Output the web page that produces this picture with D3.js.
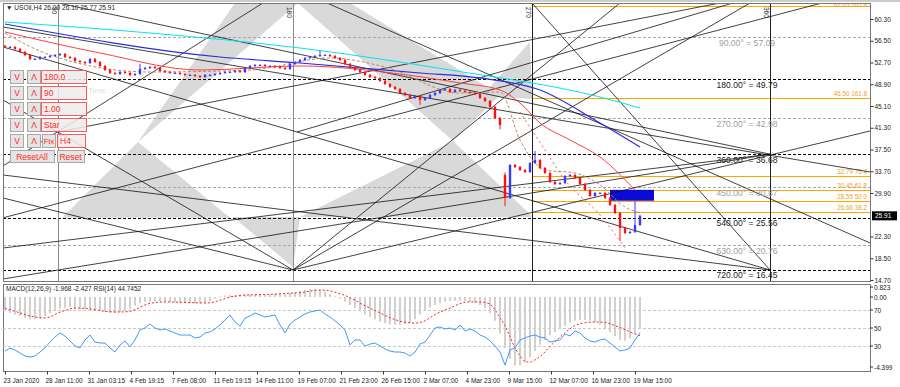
<!DOCTYPE html>
<html><head><meta charset="utf-8">
<script src="https://cdn.jsdelivr.net/npm/d3@7/dist/d3.min.js"></script>
<style>
body{margin:0;background:#fff;}
svg text{font-family:"Liberation Sans","DejaVu Sans",sans-serif;}
</style></head>
<body><svg id="c" width="900" height="387"></svg>
<script>
// ---------------- DATA ----------------
const symbolTitle = "USOil,H4  26.00 26.10 25.77 25.91";
const indTitle = "MACD(12,26,9) -1.968 -2.427  RSI(14) 44.7452";
// closes of H4 candles (sampled), oldest first
const closes = [
55.41,55.41,55.06,54.53,54.01,53.31,53.31,53.66,53.66,53.84,
54.01,54.19,53.66,53.49,52.96,52.79,52.61,53.31,52.79,52.09,
51.39,50.87,50.69,51.04,50.87,50.52,50.69,51.57,51.74,51.91,
51.74,51.22,51.04,50.87,50.87,50.69,50.52,50.52,50.34,50.17,
50.52,50.52,50.69,50.87,51.04,51.04,51.22,51.04,51.74,52.09,
52.26,52.26,52.09,52.09,51.91,51.74,51.57,52.44,52.79,53.14,
53.49,53.66,53.84,54.01,54.01,53.84,53.49,53.14,52.44,51.91,
51.39,51.04,50.52,50.17,49.99,49.47,48.94,48.42,48.07,47.37,
47.02,46.50,46.85,46.15,46.50,47.02,47.37,47.90,48.07,47.55,
47.90,47.72,47.55,47.37,47.20,46.50,45.97,44.93,43.00,41.78,
29.03,34.79,34.44,33.92,33.57,35.14,35.67,34.27,33.40,31.82,
31.47,31.65,32.87,33.05,32.52,31.47,30.43,29.38,29.90,29.90,
29.03,27.81,26.41,23.79,22.91,23.09,24.31,25.91];
const firstOpen = 55.6;
const gapOpens = {100: 33.05};                 // weekend gap (9 Mar)
const wickHigh = {100: 33.3, 106: 37.07, 126: 28.33, 27: 52.3, 63: 54.6};
const wickLow  = {100: 27.81, 123: 21.69, 83: 45.5, 99: 41.2};

// moving averages: [bar, price]
const maCyan  = [[0,59.78],[29,57.85],[59,55.23],[89,51.39],[119,46.67],[127,44.75]];
const maBlue  = [[0,59.43],[43,53.66],[59,52.61],[83,50.87],[95,50.0],[107,47.90],[119,42.13],[127,37.94]];
const maRed   = [[0,58.03],[19,54.36],[39,51.39],[59,52.09],[79,50.69],[91,49.12],[99,47.90],[103,45.63],[107,42.13],[113,39.16],[119,36.19],[126,30.43]];
const maBrown = [[0,57.85],[9,54.01],[29,51.04],[49,51.39],[65,53.49],[76,51.91],[91,47.37],[99,47.55],[103,39.16],[108,33.92],[114,33.40],[119,31.30],[124,27.46],[127,26.41]];
const envRed  = [[103,44.05],[108,37.41],[112,32.17],[119,26.06],[124,20.30]];

// price axis
const priceTicks = [60.30,56.50,52.70,48.90,45.10,41.30,37.50,33.70,29.90,22.30,18.50,14.70];
const lastPrice = 25.91;
// time axis
const timeTickBars = [0,8.4,16.8,25.2,33.6,42,50.4,58.8,67.2,75.6,84,92.4,100.8,109.2,117.6,126];
const timeLabels = ["23 Jan 2020","28 Jan 11:00","31 Jan 03:15","4 Feb 19:15","7 Feb 08:00","11 Feb 19:15","14 Feb 11:00","19 Feb 07:00","21 Feb 23:00","26 Feb 15:00","2 Mar 07:00","4 Mar 23:00","9 Mar 15:00","12 Mar 07:00","16 Mar 23:00","19 Mar 15:00"];

// Gann square levels
const gannDeg = [90,180,270,360,450,540,630,720];
const gannPrice = [57.09,49.79,42.98,36.68,30.87,25.56,20.76,16.45];
const gannTimeBars = [10.6,57.6,105.4,153];
const gannTimeLabels = ["90","180","270","360"];
// Gann fan lines [bar1, price1, bar2, price2]
const gannLines = [
 [57.6,16.45,149,63.10],[57.6,16.45,123,63.10],[57.6,16.45,173,40.73],
 [-0.4,46.15,57.6,16.45],[-0.4,29.03,57.6,16.45],[-0.4,55.41,58.4,40.56],
 [-0.4,33.05,153,16.45],[-0.4,20.29,153,36.68],[-0.4,58.90,173,33.57],
 [-0.4,14.88,153,36.68],[10.6,40.56,143,63.10],[58.4,40.56,145.6,63.10],
 [-0.4,34.62,51.6,63.10],[10.6,63.10,153,36.68],[105.4,63.10,153,16.45],
 [64.4,63.10,173,21.17],[58.4,40.56,153,16.45],[-0.4,25.56,163.4,63.10]
];
// shaded gann cells (polygons in [bar, price])
const grayCells = [
 [[46,63.10],[58.6,63.10],[26.6,38.81]],
 [[58.6,63.10],[69,63.10],[99,47.02],[89.6,38.99]],
 [[105,56.32],[105.4,46.32],[95.4,46.85]],
 [[26.6,38.81],[11.4,25.56],[45,25.56]],
 [[89.6,38.99],[59,25.71],[105.6,25.71]],
 [[45.6,25.71],[59,25.71],[57.6,16.97]]
];
// fibonacci
const fibPct = ["261.8","161.8","76.4","61.8","50.0","38.2"];
const fibPrice = [62.65,46.50,32.79,30.45,28.55,26.66];
const fibStartBar = 105.4;
const zoneBars = [121,129.8], zonePrices=[30.45,28.55];

// MACD / RSI per bar
const macd = [
-0.9,-1.0,-1.1,-1.2,-1.3,-1.4,-1.4,-1.35,-1.2,-1.0,
-0.8,-0.7,-0.7,-0.65,-0.7,-0.75,-0.75,-0.8,-0.85,-0.9,
-0.95,-1.0,-1.0,-0.95,-0.9,-0.75,-0.55,-0.4,-0.3,-0.28,
-0.28,-0.3,-0.32,-0.34,-0.35,-0.36,-0.38,-0.4,-0.42,-0.4,
-0.35,-0.25,-0.1,0.05,0.1,0.12,0.1,0.12,0.14,0.15,
0.17,0.16,0.15,0.18,0.2,0.22,0.24,0.27,0.32,0.38,
0.45,0.5,0.5,0.45,0.35,0.2,0.05,-0.1,-0.3,-0.5,
-0.7,-0.9,-1.1,-1.25,-1.4,-1.55,-1.65,-1.72,-1.75,-1.75,
-1.7,-1.6,-1.4,-1.1,-0.85,-0.65,-0.5,-0.4,-0.3,-0.25,
-0.22,-0.22,-0.25,-0.3,-0.38,-0.5,-0.7,-1.0,-1.5,-2.3,
-3.2,-3.9,-4.3,-4.3,-4.1,-3.8,-3.4,-3.0,-2.7,-2.4,
-2.2,-2.0,-1.8,-1.6,-1.5,-1.45,-1.45,-1.5,-1.6,-1.75,
-1.95,-2.2,-2.45,-2.7,-2.75,-2.6,-2.3,-1.97];
const signal = [
-0.7,-0.8,-0.9,-1.0,-1.1,-1.2,-1.25,-1.3,-1.32,-1.25,
-1.1,-0.95,-0.85,-0.75,-0.7,-0.7,-0.72,-0.76,-0.8,-0.85,
-0.9,-0.92,-0.94,-0.94,-0.93,-0.9,-0.8,-0.65,-0.5,-0.4,
-0.35,-0.32,-0.31,-0.31,-0.32,-0.33,-0.34,-0.35,-0.36,-0.37,
-0.38,-0.36,-0.3,-0.2,-0.1,0.0,0.05,0.1,0.12,0.13,
0.14,0.15,0.16,0.17,0.18,0.2,0.22,0.24,0.25,0.28,
0.32,0.37,0.42,0.44,0.43,0.38,0.3,0.2,0.1,-0.05,
-0.2,-0.38,-0.55,-0.7,-0.85,-1.0,-1.15,-1.3,-1.42,-1.52,
-1.58,-1.62,-1.64,-1.6,-1.5,-1.3,-1.1,-0.95,-0.82,-0.7,
-0.55,-0.42,-0.33,-0.31,-0.31,-0.32,-0.35,-0.45,-0.8,-1.3,
-1.8,-2.5,-3.2,-3.7,-4.05,-4.09,-3.95,-3.75,-3.45,-3.1,
-2.8,-2.52,-2.25,-2.0,-1.8,-1.68,-1.62,-1.58,-1.57,-1.57,
-1.6,-1.68,-1.8,-1.92,-2.05,-2.2,-2.33,-2.43];
const rsi = [
24.4,27.8,25.6,22.2,18.9,17.8,18.9,23.3,27.8,34.4,
40.0,44.4,41.1,35.6,30.0,27.8,36.7,42.2,34.4,33.3,
33.3,27.8,23.3,31.1,35.6,28.9,36.7,47.8,50.0,54.4,
50.0,47.8,48.9,46.7,44.4,42.2,42.2,42.2,38.9,40.0,
44.4,45.6,48.9,53.3,58.9,64.4,56.7,52.2,61.1,63.3,
66.7,64.4,62.2,63.3,64.4,53.3,44.4,54.4,58.9,62.2,
65.6,67.8,68.9,70.0,65.6,62.2,57.8,53.3,47.8,31.1,
36.7,36.7,30.0,32.2,33.3,30.0,26.7,24.4,23.3,23.3,
22.2,18.9,23.3,32.2,34.4,42.2,50.0,51.1,48.9,50.0,
47.8,53.3,46.7,48.9,46.7,42.2,40.0,35.6,30.0,23.3,
8.9,25.6,27.8,36.7,38.9,41.1,42.2,40.0,38.9,34.4,
35.6,36.7,43.3,41.1,46.7,44.4,38.9,35.6,34.4,36.7,
37.8,33.3,28.9,24.4,25.6,27.8,36.7,44.75];
const rsiLevels = [70,50,30];
const macdTicks = [0.823,0.00,-4.399];

// control panel
const panelRows = [
 {box:"180.0"},{box:"90"},{box:"1.00"},{box:"Star"},{fix:true, box:"H4"}
];

// ---------------- DRAW ----------------
const svg = d3.select("#c");
const P = {l:3, r:870, t:3, b:281};
const I = {t:284, b:371};
const N = closes.length;

const x = d3.scaleLinear().domain([0, N-1]).range([5, 640]);
const y = d3.scaleLinear().domain([14.70, 60.30]).range([280, 19]);
const yM = d3.scaleLinear().domain([-4.399, 0]).range([367, 297]);
const yR = d3.scaleLinear().domain([30, 70]).range([346, 310]);

svg.append("rect").attr("width",900).attr("height",387).attr("fill","#fff");
const defs = svg.append("defs");
defs.append("clipPath").attr("id","cp").append("rect")
  .attr("x",P.l).attr("y",P.t).attr("width",P.r-P.l).attr("height",P.b-P.t);
defs.append("clipPath").attr("id","ci").append("rect")
  .attr("x",P.l).attr("y",I.t).attr("width",P.r-P.l).attr("height",I.b-I.t);

const g = svg.append("g").attr("clip-path","url(#cp)");

// gray cells
g.selectAll("polygon.cell").data(grayCells).join("polygon")
  .attr("points", d => d.map(p => [x(p[0]), y(p[1])].join(",")).join(" "))
  .attr("fill","#d9d9d9");

// gann horizontal levels
gannPrice.forEach((p,i)=>{
  const major = gannDeg[i]%180===0;
  g.append("line").attr("x1",P.l).attr("x2",P.r).attr("y1",Math.round(y(p))+0.5).attr("y2",Math.round(y(p))+0.5)
   .attr("stroke", major?"#000":"#a8a8a8").attr("stroke-dasharray","3,2").attr("stroke-width",1);
});
// fib lines
fibPrice.forEach((p,i)=>{
  g.append("line").attr("x1",x(fibStartBar)).attr("x2",P.r).attr("y1",Math.round(y(p))+0.5).attr("y2",Math.round(y(p))+0.5)
   .attr("stroke","#ffa500").attr("stroke-width",1);
  g.append("text").attr("x",P.r-3).attr("y",Math.max(y(p)-2,7)).attr("text-anchor","end")
   .attr("font-size",6.3).attr("fill","#f0a030").text(p.toFixed(2)+"  "+fibPct[i]);
});
// zone rectangle
g.append("rect").attr("x",x(zoneBars[0])).attr("y",y(zonePrices[0]))
  .attr("width",x(zoneBars[1])-x(zoneBars[0])).attr("height",y(zonePrices[1])-y(zonePrices[0]))
  .attr("fill","#0a0ad8");

// vertical time lines
gannTimeBars.forEach((b,i)=>{
  const xx = Math.round(x(b))+0.5;
  g.append("line").attr("x1",xx).attr("x2",xx).attr("y1",P.t).attr("y2",P.b)
   .attr("stroke", i<2?"#8c8c8c":"#222").attr("stroke-width",1);
  g.append("text").attr("transform",`translate(${xx-7},${P.t+4}) rotate(90)`)
   .attr("font-size",6.5).attr("fill","#222").text(gannTimeLabels[i]);
});

// gann fan lines
g.selectAll("line.fan").data(gannLines).join("line")
  .attr("x1",d=>x(d[0])).attr("y1",d=>y(d[1])).attr("x2",d=>x(d[2])).attr("y2",d=>y(d[3]))
  .attr("stroke","#111").attr("stroke-width",0.8);

// moving averages
const ml = d3.line().x(d=>x(d[0])).y(d=>y(d[1])).curve(d3.curveMonotoneX);
g.append("path").attr("d",ml(maCyan)).attr("fill","none").attr("stroke","#00e5ee").attr("stroke-width",1);
g.append("path").attr("d",ml(maBlue)).attr("fill","none").attr("stroke","#2a2adf").attr("stroke-width",1.2);
g.append("path").attr("d",ml(maRed)).attr("fill","none").attr("stroke","#ff4040").attr("stroke-width",1);
g.append("path").attr("d",ml(maBrown)).attr("fill","none").attr("stroke","#c08860").attr("stroke-width",1).attr("stroke-dasharray","3,2");
g.append("path").attr("d",ml(envRed)).attr("fill","none").attr("stroke","#ff5050").attr("stroke-width",1).attr("stroke-dasharray","2,3");

// candles
const candles = closes.map((c,i)=>{
  const o = i===0 ? firstOpen : (gapOpens[i]!==undefined ? gapOpens[i] : closes[i-1]);
  const hi = wickHigh[i]!==undefined ? wickHigh[i] : Math.max(o,c);
  const lo = wickLow[i]!==undefined ? wickLow[i] : Math.min(o,c);
  return {i,o,c,hi,lo};
});
const cg = g.append("g");
cg.selectAll("line").data(candles).join("line")
  .attr("x1",d=>x(d.i)).attr("x2",d=>x(d.i)).attr("y1",d=>y(d.hi)-1).attr("y2",d=>y(d.lo)+1)
  .attr("stroke",d=>d.c>=d.o?"#3a3aff":"#ff1010").attr("stroke-width",1);
cg.selectAll("rect").data(candles).join("rect")
  .attr("x",d=>x(d.i)-1.2).attr("width",2.4)
  .attr("y",d=>y(Math.max(d.o,d.c))).attr("height",d=>Math.max(1,Math.abs(y(d.o)-y(d.c))))
  .attr("fill",d=>d.c>=d.o?"#3a3aff":"#ff1010");

// gann level labels
gannPrice.forEach((p,i)=>{
  const major = gannDeg[i]%180===0;
  svg.append("text").attr("x",747).attr("y",y(p)+8.5).attr("text-anchor","middle")
   .attr("font-size",8.6).attr("fill", major?"#222":"#a0a0a0")
   .text(gannDeg[i].toFixed(2)+"° = "+p.toFixed(2));
});

// frames
svg.append("rect").attr("x",P.l+0.5).attr("y",P.t+0.5).attr("width",P.r-P.l).attr("height",P.b-P.t)
  .attr("fill","none").attr("stroke","#777");
svg.append("rect").attr("x",P.l+0.5).attr("y",I.t+0.5).attr("width",P.r-P.l).attr("height",I.b-I.t)
  .attr("fill","none").attr("stroke","#777");
svg.append("line").attr("x1",0).attr("x2",900).attr("y1",1).attr("y2",1).attr("stroke","#999");

// price axis
const ya = svg.append("g").attr("transform",`translate(${P.r+0.5},0)`)
  .call(d3.axisRight(y).tickValues(priceTicks).tickSize(3).tickFormat(d3.format(".2f")));
ya.select(".domain").remove();
ya.selectAll("text").attr("font-size",6.5).attr("fill","#222").attr("x",4);
ya.selectAll("line").attr("stroke","#333");
const lp = svg.append("g").attr("transform",`translate(${P.r+2},${y(lastPrice)})`);
lp.append("rect").attr("x",0).attr("y",-4.5).attr("width",25).attr("height",9).attr("fill","#000");
lp.append("text").attr("x",3).attr("y",2.5).attr("font-size",6.5).attr("fill","#fff").text(lastPrice.toFixed(2));

// title
svg.append("text").attr("x",6).attr("y",10).attr("font-size",6.6).attr("fill","#222").text("▼ "+symbolTitle);

// control panel
const cp = svg.append("g");
panelRows.forEach((r,k)=>{
  const yy = 70 + k*16;
  [["V",10],["\u039b",27]].forEach(([t,xx])=>{
    cp.append("rect").attr("x",xx+0.5).attr("y",yy+0.5).attr("width",13).attr("height",13).attr("fill","#e4e4e4").attr("stroke","#a8a8a8");
    cp.append("text").attr("x",xx+7).attr("y",yy+10).attr("text-anchor","middle").attr("font-size",8.5).attr("fill","#ff2a2a").text(t);
  });
  let bx = 41, bw = 45;
  if(r.fix){
    cp.append("rect").attr("x",42.5).attr("y",yy+0.5).attr("width",13).attr("height",13).attr("fill","#e4e4e4").attr("stroke","#a8a8a8");
    cp.append("text").attr("x",49).attr("y",yy+10).attr("text-anchor","middle").attr("font-size",8).attr("fill","#ff2a2a").text("Fix");
    bx = 57; bw = 28;
  }
  cp.append("rect").attr("x",bx+0.5).attr("y",yy+0.5).attr("width",bw).attr("height",13).attr("fill","#ececec").attr("fill-opacity",0.85).attr("stroke","#ff5a5a");
  cp.append("text").attr("x",bx+3).attr("y",yy+10).attr("font-size",8.5).attr("fill","#ff2a2a").text(r.box);
});
[["ResetAll",10,44],["Reset",57,27]].forEach(([t,xx,w])=>{
  cp.append("rect").attr("x",xx+0.5).attr("y",150.5).attr("width",w).attr("height",12).attr("fill","#e4e4e4").attr("stroke","#a8a8a8");
  cp.append("text").attr("x",xx+w/2).attr("y",159.5).attr("text-anchor","middle").attr("font-size",8.5).attr("fill","#ff2a2a").text(t);
});
svg.append("text").attr("x",88).attr("y",93).attr("font-size",8).attr("fill","#dddddd").text("Time :");

// ---------- indicator panel ----------
const ig = svg.append("g").attr("clip-path","url(#ci)");
rsiLevels.forEach(l=>{
  ig.append("line").attr("x1",P.l).attr("x2",P.r).attr("y1",Math.round(yR(l))+0.5).attr("y2",Math.round(yR(l))+0.5)
    .attr("stroke","#c8c8c8").attr("stroke-dasharray","3,2");
});
ig.selectAll("line.h").data(macd).join("line").attr("class","h")
  .attr("x1",(d,i)=>x(i)).attr("x2",(d,i)=>x(i)).attr("y1",yM(0)).attr("y2",d=>yM(d))
  .attr("stroke","#d0d0d0").attr("stroke-width",2);
ig.append("path").attr("d",d3.line().x((d,i)=>x(i)).y(d=>yM(d)).curve(d3.curveMonotoneX)(signal))
  .attr("fill","none").attr("stroke","#ff2020").attr("stroke-width",1).attr("stroke-dasharray","2,2");
ig.append("path").attr("d",d3.line().x((d,i)=>x(i)).y(d=>yR(d))(rsi))
  .attr("fill","none").attr("stroke","#3c9cff").attr("stroke-width",1);
svg.append("text").attr("x",6).attr("y",291).attr("font-size",6.5).attr("fill","#222").text(indTitle);

// indicator axis
const iaxis = svg.append("g").attr("font-size",6.5).attr("fill","#222");
macdTicks.forEach(v=>{
  const yy = v===0.823?287:(v===0?297:367);
  iaxis.append("line").attr("x1",P.r).attr("x2",P.r+3).attr("y1",yy).attr("y2",yy).attr("stroke","#333");
  iaxis.append("text").attr("x",P.r+4).attr("y",yy+2.5).text(v===0?"0.00":v.toFixed(3));
});
rsiLevels.forEach(l=>{
  iaxis.append("line").attr("x1",P.r).attr("x2",P.r+3).attr("y1",yR(l)).attr("y2",yR(l)).attr("stroke","#333");
  iaxis.append("text").attr("x",P.r+4).attr("y",yR(l)+2.5).text(l);
});

// time axis
const xa = svg.append("g").attr("transform",`translate(0,${I.b+0.5})`)
  .call(d3.axisBottom(x).tickValues(timeTickBars).tickSize(3).tickFormat((d,i)=>timeLabels[i]));
xa.select(".domain").remove();
xa.selectAll("text").attr("font-size",6.5).attr("fill","#222").attr("text-anchor","start").attr("dy","0.9em").attr("x",-2);
xa.selectAll("line").attr("stroke","#333");
</script></body></html>
